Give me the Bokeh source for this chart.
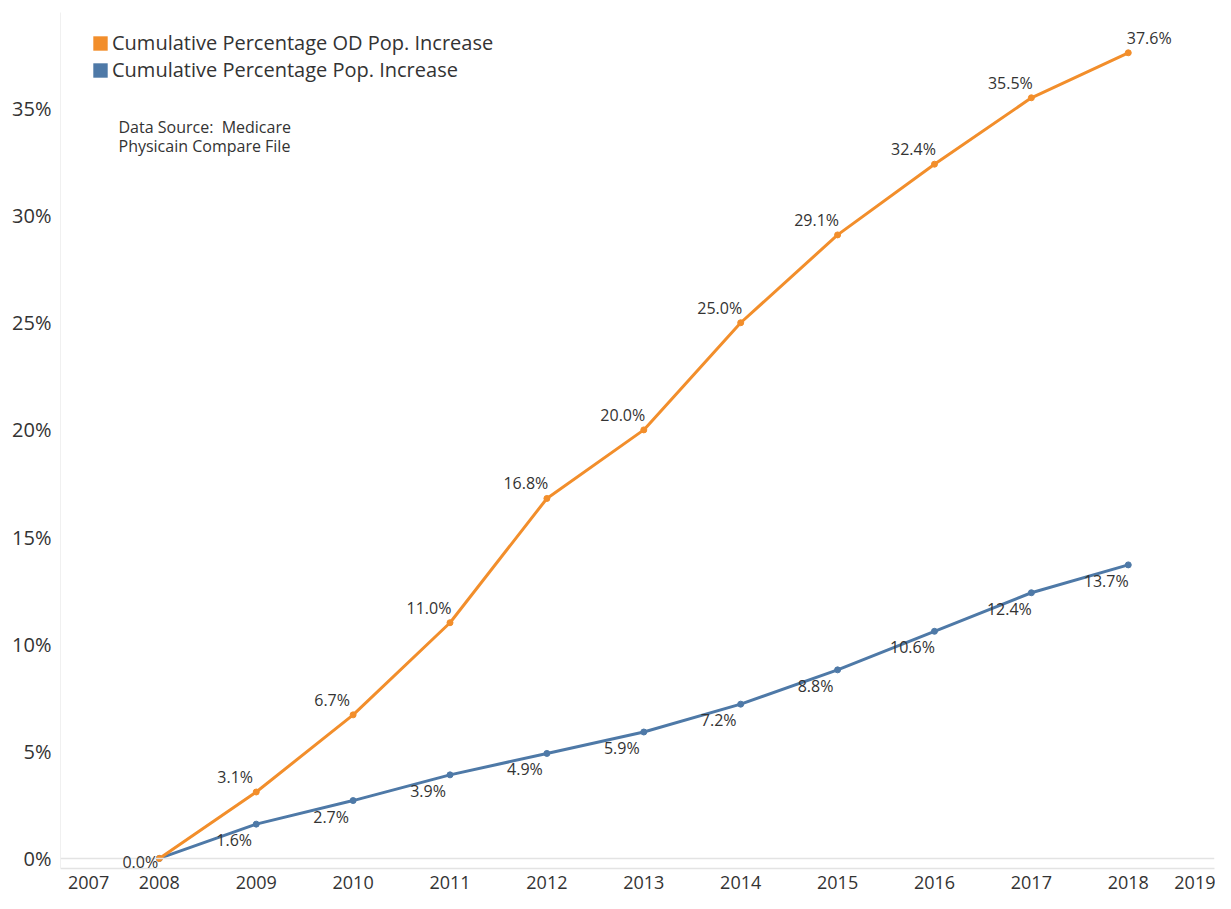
from bokeh.plotting import figure
from bokeh.models import (ColumnDataSource, LabelSet, Label, Legend, LegendItem,
                          FixedTicker, PrintfTickFormatter, CustomJSTickFormatter, Span)
from bokeh.core.properties import value
from bokeh.embed import file_html
from bokeh.resources import INLINE

# ---- data ----
years = [2008, 2009, 2010, 2011, 2012, 2013, 2014, 2015, 2016, 2017, 2018]
od_pop_increase = [0.0, 3.1, 6.7, 11.0, 16.8, 20.0, 25.0, 29.1, 32.4, 35.5, 37.6]
pop_increase = [0.0, 1.6, 2.7, 3.9, 4.9, 5.9, 7.2, 8.8, 10.6, 12.4, 13.7]
y_ticks = [0, 5, 10, 15, 20, 25, 30, 35]
edge_year_labels = ["2007", "2019"]
series_names = ["Cumulative Percentage OD Pop. Increase", "Cumulative Percentage Pop. Increase"]
source_note = "Data Source: \u00a0Medicare\nPhysicain Compare File"

ORANGE = "#F28E2B"
BLUE = "#4E79A7"
FONT = "Open Sans"
TXT = "#333333"

p = figure(width=1215, height=893, output_backend="svg", toolbar_location=None,
           x_range=(2006.98, 2018.89), y_range=(-0.47, 39.48),
           min_border_left=60, min_border_right=1, min_border_top=12, min_border_bottom=25)
p.outline_line_color = None
p.background_fill_color = "white"
p.border_fill_color = "white"
p.xgrid.visible = False
p.ygrid.visible = False

# zero line
p.add_layout(Span(location=0, dimension="width", line_color="#e3e3e3", line_width=1.5))

od_src = ColumnDataSource(dict(x=years, y=od_pop_increase,
                               t=[f"{v:.1f}%" for v in od_pop_increase]))
pop_src = ColumnDataSource(dict(x=years, y=pop_increase,
                                t=[f"{v:.1f}%" for v in pop_increase]))

p.line("x", "y", source=pop_src, line_color=BLUE, line_width=3)
p.scatter("x", "y", source=pop_src, color=BLUE, size=6)
p.line("x", "y", source=od_src, line_color=ORANGE, line_width=3)
p.scatter("x", "y", source=od_src, color=ORANGE, size=6)

# data labels
n = len(years)
lab_style = dict(text_align="center", text_baseline="middle", text_font=value(FONT),
                 text_font_size="16px", text_color=TXT)
od_lab = ColumnDataSource(dict(x=years[1:], y=od_pop_increase[1:], t=od_src.data["t"][1:],
                               ox=[-21] * (n - 2) + [21]))
p.add_layout(LabelSet(x="x", y="y", text="t", source=od_lab, x_offset="ox", y_offset=15,
                      **lab_style))
pop_lab = ColumnDataSource(dict(x=years[1:], y=pop_increase[1:], t=pop_src.data["t"][1:]))
p.add_layout(LabelSet(x="x", y="y", text="t", source=pop_lab, x_offset=-22, y_offset=-16,
                      **lab_style))
zero_lab = ColumnDataSource(dict(x=years[:1], y=od_pop_increase[:1], t=od_src.data["t"][:1]))
p.add_layout(LabelSet(x="x", y="y", text="t", source=zero_lab, x_offset=-19, y_offset=-4,
                      **lab_style))

# legend (square swatches; renderers hold one non-drawable row)
nan = float("nan")
sw_od = p.quad(left=[nan], right=[nan], top=[nan], bottom=[nan], fill_color=ORANGE, line_color=None)
sw_pop = p.quad(left=[nan], right=[nan], top=[nan], bottom=[nan], fill_color=BLUE, line_color=None)
legend = Legend(items=[LegendItem(label=series_names[0], renderers=[sw_od], index=0),
                       LegendItem(label=series_names[1], renderers=[sw_pop], index=0)],
                location=(31, 785), orientation="vertical",
                glyph_width=18, glyph_height=18, label_height=20, spacing=0,
                label_standoff=3, padding=0, margin=0,
                label_text_font=FONT, label_text_font_size="20px", label_text_color=TXT,
                background_fill_alpha=0, border_line_color=None)
p.add_layout(legend)

# source note
p.add_layout(Label(x=58, y=753, x_units="screen", y_units="screen", text=source_note,
                   text_font=FONT, text_font_size="16px", text_color=TXT,
                   text_align="left", text_baseline="top", text_line_height=0.9))

# axes
xa = p.xaxis[0]
xa.ticker = FixedTicker(ticks=[2007.27] + years + [2018.69])
xa.formatter = CustomJSTickFormatter(args=dict(edge=edge_year_labels), code="""
if (tick < 2007.5) return edge[0];
if (tick > 2018.5) return edge[1];
return tick.toFixed(0);
""")
xa.axis_line_color = "#e3e3e3"
xa.axis_line_width = 1.5
xa.major_tick_line_color = None
xa.minor_tick_line_color = None
xa.major_label_standoff = 1
xa.major_label_text_font = FONT
xa.major_label_text_font_size = "18px"
xa.major_label_text_color = TXT

ya = p.yaxis[0]
ya.ticker = FixedTicker(ticks=y_ticks)
ya.formatter = PrintfTickFormatter(format="%d%%")
ya.axis_line_color = "#f0f0f0"
ya.major_tick_line_color = None
ya.minor_tick_line_color = None
ya.major_label_standoff = 3
ya.major_label_text_font = FONT
ya.major_label_text_font_size = "20px"
ya.major_label_text_color = TXT

open("out.html", "w").write(file_html(p, INLINE))
